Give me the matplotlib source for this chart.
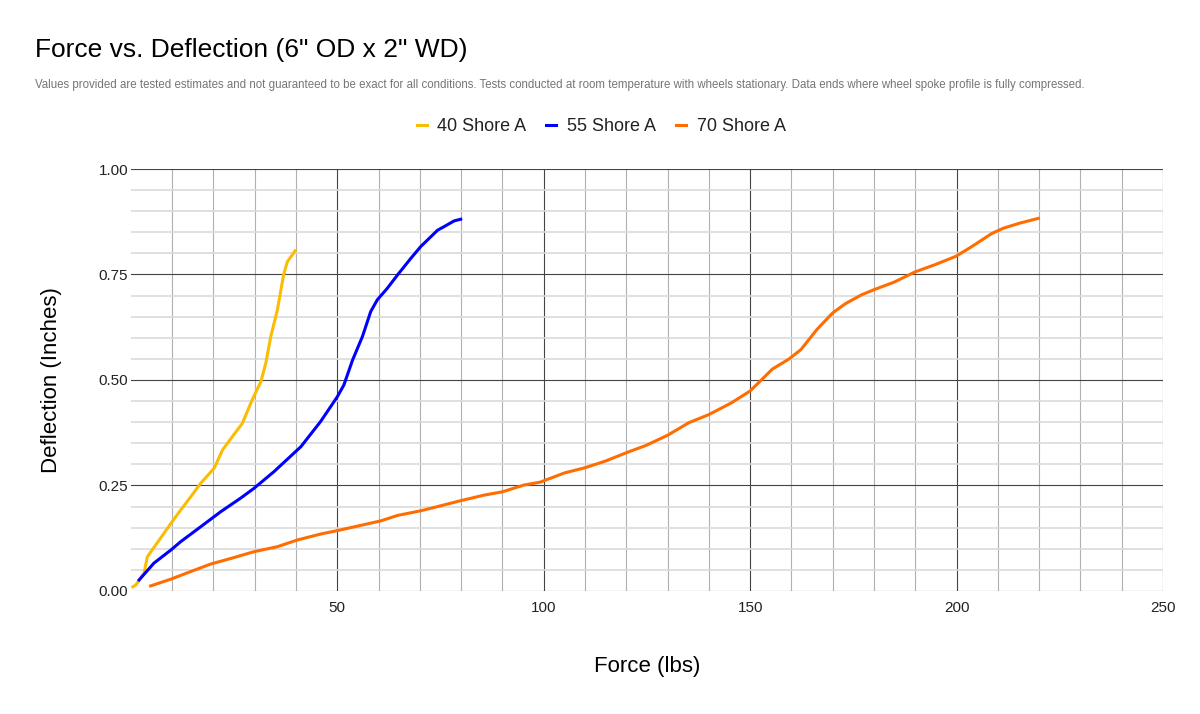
import matplotlib.pyplot as plt
from matplotlib.ticker import MultipleLocator, FixedLocator

plt.rcParams['font.family'] = ['Liberation Sans', 'DejaVu Sans']

# 40 Shore A
force_40 = [0.5, 1.2, 3.2, 4.0, 6.9, 9.7, 12.1, 14.5, 16.9, 20.2, 22.2, 24.6, 27.0,
            29.4, 31.5, 32.7, 33.9, 35.5, 37.0, 37.9, 39.8]
defl_40 = [0.010, 0.014, 0.042, 0.081, 0.121, 0.160, 0.192, 0.223, 0.255, 0.291, 0.334,
           0.366, 0.397, 0.453, 0.496, 0.540, 0.603, 0.666, 0.749, 0.780, 0.806]

# 55 Shore A
force_55 = [2.0, 5.6, 9.7, 12.1, 16.9, 21.8, 26.6, 29.8, 34.7, 41.2, 46.0, 50.0, 51.6,
            53.7, 56.1, 58.1, 59.7, 62.1, 64.6, 67.8, 70.2, 74.3, 75.8, 78.3, 79.9]
defl_55 = [0.026, 0.066, 0.097, 0.117, 0.152, 0.188, 0.220, 0.243, 0.283, 0.342, 0.402,
           0.460, 0.488, 0.547, 0.603, 0.662, 0.690, 0.717, 0.749, 0.788, 0.816, 0.855,
           0.863, 0.877, 0.881]

# 70 Shore A
force_70 = [4.8, 9.7, 14.5, 19.4, 24.2, 29.8, 35.5, 40.4, 46.0, 50.0, 60.5, 64.6, 70.2,
            75.1, 79.9, 85.5, 90.0, 95.2, 99.2, 105.1, 110.0, 115.0, 120.1, 124.8, 130.0,
            135.2, 140.0, 145.5, 150.0, 152.4, 155.4, 159.3, 162.3, 166.2, 170.0, 173.1,
            177.0, 180.0, 184.9, 189.9, 194.7, 199.8, 203.5, 208.5, 211.4, 215.4, 219.8]
defl_70 = [0.012, 0.028, 0.046, 0.064, 0.077, 0.093, 0.105, 0.121, 0.135, 0.143, 0.166,
           0.179, 0.190, 0.202, 0.214, 0.227, 0.235, 0.251, 0.258, 0.280, 0.292, 0.308,
           0.328, 0.345, 0.369, 0.399, 0.418, 0.446, 0.474, 0.497, 0.526, 0.549, 0.572,
           0.620, 0.659, 0.681, 0.702, 0.714, 0.732, 0.756, 0.773, 0.793, 0.815, 0.847,
           0.860, 0.872, 0.883]

fig = plt.figure(figsize=(12, 7.14), dpi=100)
ax = fig.add_axes([0.109, 0.1723, 0.8602, 0.591])

ax.plot(force_40, defl_40, color='#fbbc04', lw=2.2, label='40 Shore A', solid_joinstyle='round', zorder=5)
ax.plot(force_55, defl_55, color='#0000ff', lw=2.2, label='55 Shore A', solid_joinstyle='round', zorder=5)
ax.plot(force_70, defl_70, color='#ff6d01', lw=2.2, label='70 Shore A', solid_joinstyle='round', zorder=5)

ax.set_xlim(0, 250)
ax.set_ylim(0, 1.0)
ax.xaxis.set_major_locator(FixedLocator([50, 100, 150, 200, 250]))
ax.xaxis.set_minor_locator(MultipleLocator(10))
ax.yaxis.set_major_locator(MultipleLocator(0.25))
ax.yaxis.set_minor_locator(MultipleLocator(0.05))
ax.yaxis.set_major_formatter(lambda v, p: f'{v:.2f}')

# grid lines
for x in range(10, 251, 10):
    c = '#444444' if x % 50 == 0 else '#b0b0b0'
    ax.axvline(x, color=c, lw=0.8, zorder=1)
for i in range(0, 21):
    y = i * 0.05
    if i % 5 == 0:
        ax.axhline(y, color='#444444', lw=0.8, zorder=2)
    else:
        ax.axhline(y, color='#dadada', lw=1.2, zorder=1)

for s in ax.spines.values():
    s.set_visible(False)
ax.tick_params(axis='x', which='both', length=0, pad=7, labelsize=11, labelcolor='#222222')
ax.tick_params(axis='y', which='both', length=0, pad=2, labelsize=11, labelcolor='#222222')

ax.set_xlabel('Force (lbs)', fontsize=16, labelpad=30, color='#000000')
ax.set_ylabel('Deflection (Inches)', fontsize=16, labelpad=26, color='#000000')

fig.text(0.029, 0.93, 'Force vs. Deflection (6" OD x 2" WD)', fontsize=19, va='center', ha='left', color='#000000')
fig.text(0.029, 0.881, 'Values provided are tested estimates and not guaranteed to be exact for all conditions. '
         'Tests conducted at room temperature with wheels stationary. Data ends where wheel spoke profile is fully compressed.',
         fontsize=8.3, va='center', ha='left', color='#757575')

fig.legend(loc='center', bbox_to_anchor=(0.501, 0.823), ncol=3, frameon=False, fontsize=13,
           handlelength=0.55, handletextpad=0.6, columnspacing=1.1, labelcolor='#222222')

fig.savefig('out.png', dpi=100)
